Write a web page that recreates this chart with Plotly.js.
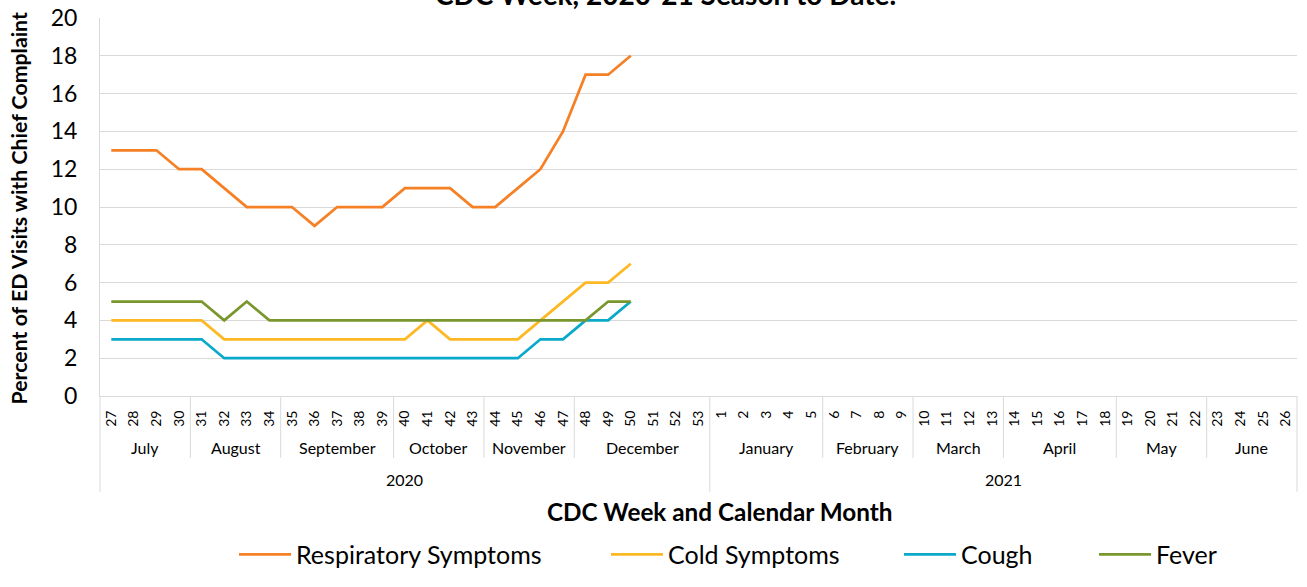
<!DOCTYPE html>
<html><head><meta charset="utf-8">
<script src="https://cdn.plot.ly/plotly-3.0.1.min.js"></script>
<style>html,body{margin:0;padding:0;background:#fff;overflow:hidden}#chart{width:1307px;height:587px}</style>
</head><body><div id="chart"></div>
<script>
// ---- data ----
const weeks = ["27","28","29","30","31","32","33","34","35","36","37","38","39","40","41","42","43","44","45","46","47","48","49","50","51","52","53",
               "1","2","3","4","5","6","7","8","9","10","11","12","13","14","15","16","17","18","19","20","21","22","23","24","25","26"];
const months = ["July","August","September","October","November","December","January","February","March","April","May","June"];
const monthWeekCounts = [4,4,5,4,4,6,5,4,4,5,4,4];
const years = ["2020","2021"];
const yearWeekCounts = [27,26];
const reportedWeeks = ["27","28","29","30","31","32","33","34","35","36","37","38","39","40","41","42","43","44","45","46","47","48","49","50"];
const respiratory = [13,13,13,12,12,11,10,10,10,9,10,10,10,11,11,11,10,10,11,12,14,17,17,18];
const cold        = [4,4,4,4,4,3,3,3,3,3,3,3,3,3,4,3,3,3,3,4,5,6,6,7];
const cough       = [3,3,3,3,3,2,2,2,2,2,2,2,2,2,2,2,2,2,2,3,3,4,4,5];
const fever       = [5,5,5,5,5,4,5,4,4,4,4,4,4,4,4,4,4,4,4,4,4,4,5,5];
const seriesNames = ["Respiratory Symptoms","Cold Symptoms","Cough","Fever"];
const seriesColors = ["#F58025","#FDB924","#0AA9C9","#7A972D"];

const FONT = "Lato, 'Liberation Sans', sans-serif";
const N = weeks.length;
const allSeries = [respiratory, cold, cough, fever];
const legendIds = ["legend","legend2","legend3","legend4"];
const legendX = [234, 606, 899, 1094];
const L = 100, R = 10, T = 18, B = 178, W = 1307, H = 587;
const pw = W - L - R, ph = H - T - B;
const px2x = p => (p - L) / pw;
const py2y = p => (H - B - p) / ph;

const traces = allSeries.map((vals, i) => ({
  x: reportedWeeks, y: vals, type: "scatter", mode: "lines",
  name: seriesNames[i], line: {color: seriesColors[i], width: 2.75},
  legend: legendIds[i], hoverinfo: "skip"
}));

const shapes = [];
const annotations = [];
let cum = 0;
const yearBounds = [0];
let yc = 0;
yearWeekCounts.forEach(c => { yc += c; yearBounds.push(yc); });
monthWeekCounts.forEach((c, i) => {
  annotations.push({xref: "paper", yref: "paper", x: (cum + c / 2) / N, y: py2y(462),
    text: months[i], showarrow: false, xanchor: "center", yanchor: "middle",
    font: {family: FONT, size: 16, color: "#000"}});
  cum += c;
  if (!yearBounds.includes(cum)) {
    shapes.push({type: "line", xref: "paper", yref: "paper", x0: cum / N, x1: cum / N,
      y0: 0, y1: py2y(473), line: {color: "#d9d9d9", width: 1}});
  }
});
yearBounds.forEach(b => {
  shapes.push({type: "line", xref: "paper", yref: "paper", x0: b / N, x1: b / N,
    y0: 0, y1: py2y(508), line: {color: "#d9d9d9", width: 1}});
});
let ys = 0;
yearWeekCounts.forEach((c, i) => {
  annotations.push({xref: "paper", yref: "paper", x: (ys + c / 2) / N, y: py2y(495),
    text: years[i], showarrow: false, xanchor: "center", yanchor: "middle",
    font: {family: FONT, size: 16, color: "#000"}});
  ys += c;
});
annotations.push({xref: "paper", yref: "paper", x: px2x(665), y: py2y(13), yanchor: "bottom", xanchor: "center",
  text: "<b>CDC Week, 2020-21 Season to Date.</b>", showarrow: false, font: {family: FONT, size: 28, color: "#000"}});
annotations.push({xref: "paper", yref: "paper", x: px2x(720), y: py2y(528), yanchor: "middle", xanchor: "center",
  text: "<b>CDC Week and Calendar Month</b>", showarrow: false, font: {family: FONT, size: 24.3, color: "#000"}});
annotations.push({xref: "paper", yref: "paper", x: px2x(19), y: py2y(215), yanchor: "middle", xanchor: "center",
  textangle: -90, text: "<b>Percent of ED Visits with Chief Complaint</b>", showarrow: false,
  font: {family: FONT, size: 21.3, color: "#000"}});

const layout = {
  width: W, height: H, margin: {l: L, r: R, t: T, b: B},
  paper_bgcolor: "#fff", plot_bgcolor: "#fff",
  font: {family: FONT, color: "#000"},
  showlegend: true,
  xaxis: {type: "category", categoryorder: "array", categoryarray: weeks, tickvals: weeks, ticktext: weeks,
    range: [-0.5, N - 0.5], tickangle: -90, tickfont: {family: FONT, size: 14, color: "#000"},
    showgrid: false, showline: true, linecolor: "#d9d9d9", linewidth: 1, ticks: "", zeroline: false,
    ticklabelstandoff: 8, fixedrange: true, automargin: false},
  yaxis: {range: [0, 20], dtick: 2, tickfont: {family: FONT, size: 23, color: "#000"},
    showgrid: true, gridcolor: "#d9d9d9", gridwidth: 1, showline: true, linecolor: "#d9d9d9", linewidth: 1,
    zeroline: false, ticks: "", ticklabelstandoff: 17, automargin: false, fixedrange: true},
  shapes: shapes, annotations: annotations
};
legendIds.forEach((id, i) => {
  layout[id] = {orientation: "h", x: px2x(legendX[i]), y: py2y(573), xanchor: "left", yanchor: "middle",
    font: {family: FONT, size: 25, color: "#000"}, bgcolor: "rgba(0,0,0,0)", borderwidth: 0, itemwidth: 52};
});
Plotly.newPlot("chart", traces, layout, {displayModeBar: false, staticPlot: true});
</script>
</body></html>
